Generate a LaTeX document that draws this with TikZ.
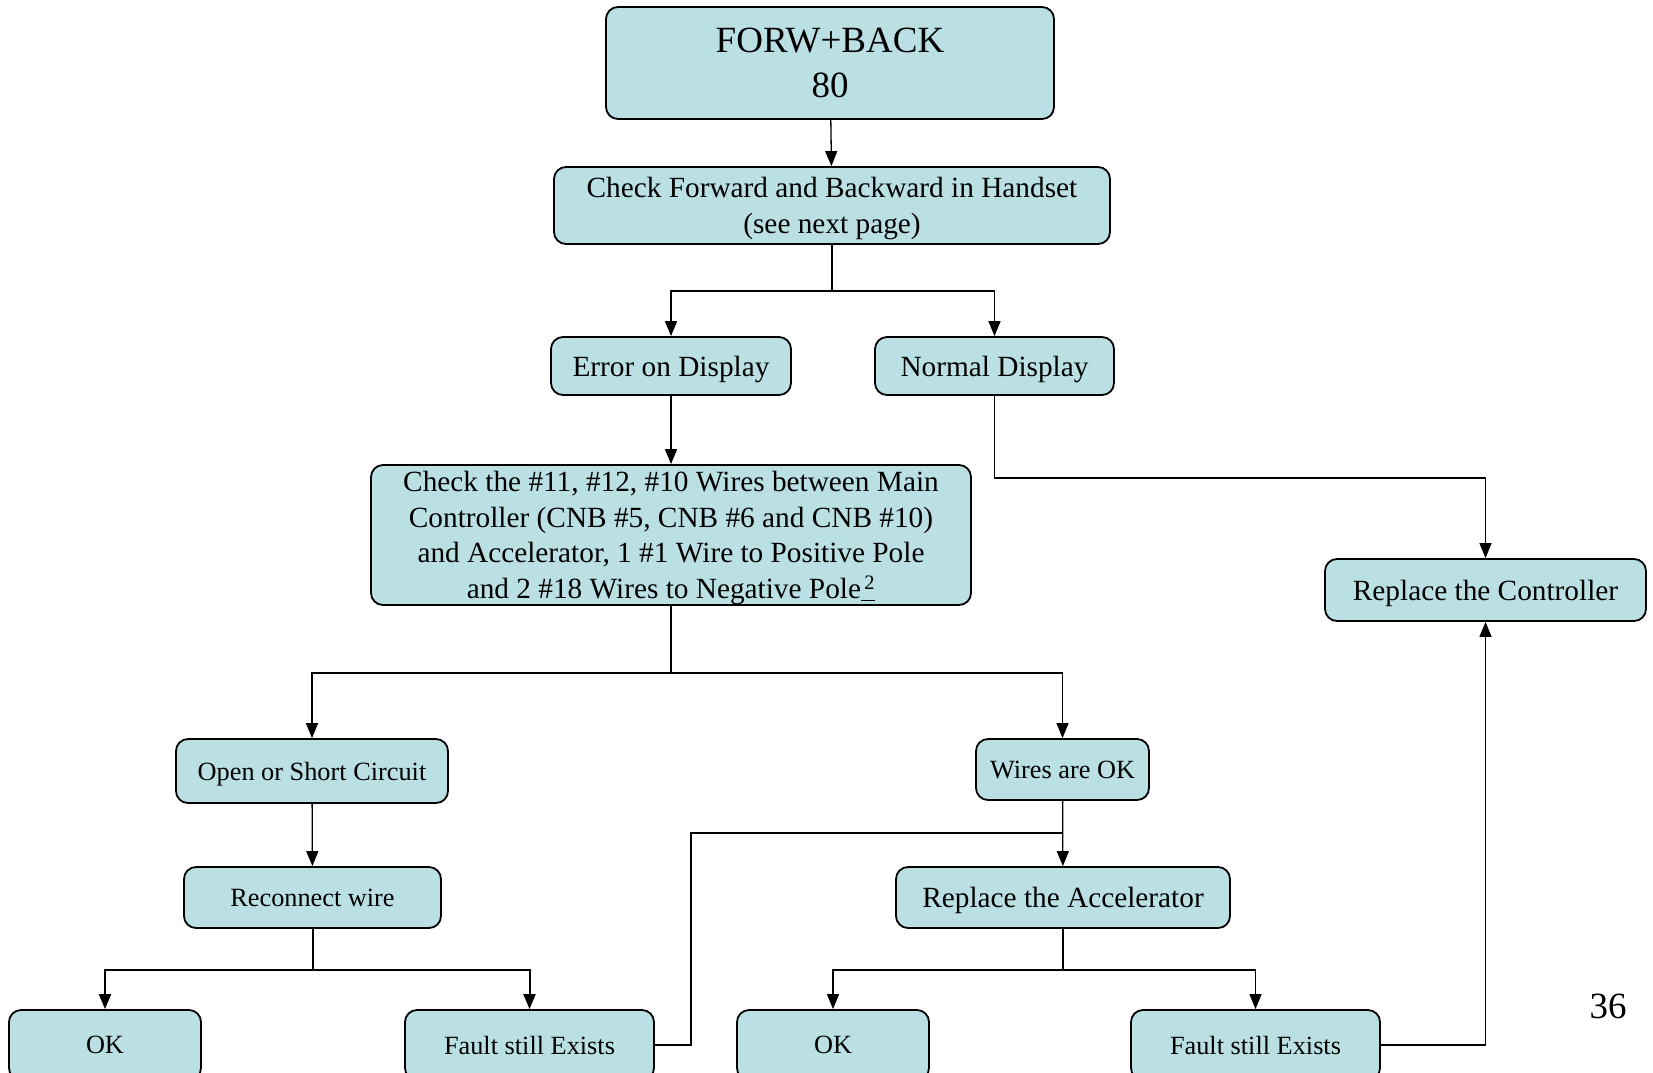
\documentclass[tikz,border=0pt]{standalone}
\usepackage{fontspec}
\setmainfont{Liberation Serif}
\usetikzlibrary{arrows.meta}
\definecolor{boxfill}{RGB}{186,224,228}
\tikzset{
    x=1pt, y=-1pt, % one unit is one pixel of the page, y runs downwards
    >={Triangle[length=15pt,width=12pt]}, % filled triangle heads
    flow/.style={draw, line width=1.8pt, fill=boxfill, rounded corners=12pt, align=center, inner sep=2pt, text depth=0pt, font=\fontsize{29.3}{35.5}\selectfont}, % every box of the chart
    flow small/.style={flow, text depth=, font=\fontsize{26.3}{32}\selectfont}, % boxes with the smaller text
    link/.style={->, line width=1.3pt}, % connectors
}

\begin{document}
\begin{tikzpicture}
                            \useasboundingbox (0,0) rectangle (1653,1072);
                            \clip (0,0) rectangle (1653,1072);
                            \node[flow, minimum width=448pt, minimum height=112pt, font=\fontsize{37}{45}\selectfont] (fb) at (830,63) {FORW+BACK\\80};
                            \node[flow, minimum width=556pt, minimum height=77pt] (chk) at (832,205.5) {Check Forward and Backward in Handset\\(see next page)};
                            \node[flow, minimum width=240pt, minimum height=58pt] (err) at (671,366) {Error on Display};
                            \node[flow, minimum width=239pt, minimum height=58pt] (nrm) at (994.5,366) {Normal Display};
                            \node[flow, minimum width=600pt, minimum height=140pt] (wir) at (671,535) {Check the \#11, \#12, \#10 Wires between Main\\Controller (CNB \#5, CNB \#6 and CNB \#10)\\and Accelerator, 1 \#1 Wire to Positive Pole\\and 2 \#18 Wires to Negative Pole\underline{\textsuperscript{\,2}}};
                            \node[flow, minimum width=321pt, minimum height=62pt] (ctl) at (1485.5,590) {Replace the Controller};
                            \node[flow small, minimum width=272pt, minimum height=64pt, text depth=0pt] (opn) at (312,771) {Open or Short Circuit};
                            \node[flow small, minimum width=173pt, minimum height=61pt] (wok) at (1062.5,769.5) {Wires are OK};
                            \node[flow small, minimum width=257pt, minimum height=61pt] (rec) at (312.5,897.5) {Reconnect wire};
                            \node[flow, minimum width=334pt, minimum height=61pt] (acc) at (1063,897.5) {Replace the Accelerator};
                            \node[flow small, minimum width=192pt, minimum height=70pt] (ok1) at (105,1045) {OK};
                            \node[flow small, minimum width=249pt, minimum height=70pt] (flt1) at (529.5,1045) {Fault still Exists};
                            \node[flow small, minimum width=192pt, minimum height=70pt] (ok2) at (833,1045) {OK};
                            \node[flow small, minimum width=249pt, minimum height=70pt] (flt2) at (1255.5,1045) {Fault still Exists};
                            \node[font=\fontsize{37}{45}\selectfont] (pg) at (1608,1006) {36};
                            \coordinate (jn) at (1063,833);
                            \draw[link] (fb) -- (chk);
                            \draw[link] (chk.south) -- ++(0,46) -| (err.north);
                            \draw[link] (chk.south) -- ++(0,46) -| (nrm.north);
                            \draw[link] (err) -- (wir);
                            \draw[link] (nrm.south) -- ++(0,82) -| (ctl.north);
                            \draw[link] (wir.south) -- ++(0,67) -| (opn.north);
                            \draw[link] (wir.south) -- ++(0,67) -| (wok.north);
                            \draw[link] (opn) -- (rec);
                            \draw[link] (wok) -- (acc);
                            \draw[link] (acc.south) -- ++(0,41) -| (ok2.north);
                            \draw[link] (acc.south) -- ++(0,41) -| (flt2.north);
                            \draw[link] (flt2.east) -| (ctl.south);
                            \draw[link, line width=2pt] (rec.south) -- ++(0,41) -| (ok1.north);
                            \draw[link, line width=2pt] (rec.south) -- ++(0,41) -| (flt1.north);
                            \draw[line width=1.3pt] (flt1.east) -- ++(36,0) |- (jn);
                        \end{tikzpicture}
\end{document}
